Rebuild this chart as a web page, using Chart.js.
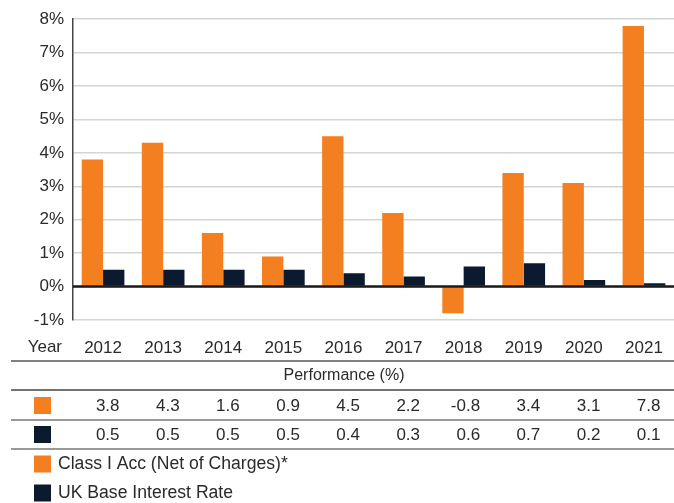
<!DOCTYPE html>
<html>
<head>
<meta charset="utf-8">
<script src="https://cdn.jsdelivr.net/npm/chart.js@4"></script>
<style>
  html, body { margin: 0; padding: 0; background: #ffffff; }
  #wrap { width: 674px; height: 503px; }
</style>
</head>
<body>
<div id="wrap"><canvas id="c" width="674" height="503"></canvas></div>
<script>
// ---- data ----
const years = ['2012', '2013', '2014', '2015', '2016', '2017', '2018', '2019', '2020', '2021'];
const classIAcc = [3.8, 4.3, 1.6, 0.9, 4.5, 2.2, -0.8, 3.4, 3.1, 7.8];
const ukBaseRate = [0.5, 0.5, 0.5, 0.5, 0.4, 0.3, 0.6, 0.7, 0.2, 0.1];
const seriesLabels = ['Class I Acc (Net of Charges)*', 'UK Base Interest Rate'];
const yMin = -1;
const yMax = 8;
const yStep = 1;
const xAxisTitle = 'Year';
const tableTitle = 'Performance (%)';

// ---- styles ----
const ORANGE = '#F47F20';
const NAVY = '#0B1A2E';
const TEXT = '#2a2a2a';
const FONT = '"Liberation Sans", Arial, Helvetica, sans-serif';

const tablePlugin = {
  id: 'tablePlugin',
  afterDatasetsDraw(chart) {
    const ctx = chart.ctx;
    const y = chart.scales.y;
    const area = chart.chartArea;
    // zero line above bars
    const y0 = y.getPixelForValue(0);
    ctx.save();
    ctx.strokeStyle = '#1a1a1a';
    ctx.lineWidth = 2.5;
    ctx.beginPath();
    ctx.moveTo(area.left, y0);
    ctx.lineTo(674, y0);
    ctx.stroke();
    ctx.restore();
  },
  afterDraw(chart) {
    const ctx = chart.ctx;
    const x = chart.scales.x;
    ctx.save();
    ctx.fillStyle = TEXT;
    ctx.font = '17px ' + FONT;
    ctx.textBaseline = 'middle';
    ctx.textAlign = 'right';
    ctx.fillText(xAxisTitle, 62, 347);

    // table lines
    const lines = [[361, '#555555'], [390, '#444444'], [420, '#777777'], [449, '#777777']];
    lines.forEach(([ly, col]) => {
      ctx.strokeStyle = col;
      ctx.lineWidth = 1.5;
      ctx.beginPath();
      ctx.moveTo(11, ly);
      ctx.lineTo(674, ly);
      ctx.stroke();
    });

    // title
    ctx.font = '16px ' + FONT;
    ctx.textAlign = 'center';
    ctx.fillText(tableTitle, 344, 376);

    // rows
    const rows = [[classIAcc, ORANGE, 406], [ukBaseRate, NAVY, 435]];
    ctx.font = '17px ' + FONT;
    rows.forEach(([vals, col, ry]) => {
      ctx.fillStyle = col;
      ctx.fillRect(34, ry - 9, 17, 17);
      ctx.fillStyle = TEXT;
      ctx.textAlign = 'right';
      vals.forEach((v, i) => {
        const cx = x.getPixelForValue(i);
        ctx.fillText(v.toFixed(1), cx + 16.5, ry);
      });
    });

    // legend
    ctx.font = '17.6px ' + FONT;
    const leg = [[seriesLabels[0], ORANGE, 464], [seriesLabels[1], NAVY, 493]];
    leg.forEach(([lab, col, ly]) => {
      ctx.fillStyle = col;
      ctx.fillRect(34, ly - 8.5, 17, 17);
      ctx.fillStyle = TEXT;
      ctx.textAlign = 'left';
      ctx.fillText(lab, 58, ly);
    });
    ctx.restore();
  }
};

new Chart(document.getElementById('c'), {
  type: 'bar',
  data: {
    labels: years,
    datasets: [
      { label: seriesLabels[0], data: classIAcc, backgroundColor: ORANGE, barPercentage: 1, categoryPercentage: 0.71 },
      { label: seriesLabels[1], data: ukBaseRate, backgroundColor: NAVY, barPercentage: 1, categoryPercentage: 0.71 }
    ]
  },
  options: {
    responsive: false,
    devicePixelRatio: 1,
    animation: false,
    layout: { padding: { left: 0, right: -3, top: 18, bottom: 0 } },
    plugins: {
      legend: { display: false },
      tooltip: { enabled: false }
    },
    scales: {
      x: {
        grid: { display: false, drawTicks: false },
        border: { display: false },
        ticks: { color: TEXT, font: { family: FONT, size: 17 }, padding: 18, maxRotation: 0 },
        afterFit(scale) {
          scale.height = 183;
          scale.paddingLeft = 0;
          scale.paddingRight = 0;
        }
      },
      y: {
        min: yMin,
        max: yMax,
        grid: { color: '#d4d4d4', lineWidth: 1.5, drawTicks: false },
        border: { display: true, color: '#444444', width: 1.5 },
        ticks: {
          stepSize: yStep,
          color: TEXT,
          font: { family: FONT, size: 17 },
          padding: 9,
          callback: (v) => v + '%'
        },
        afterFit(scale) { scale.width = 73; }
      }
    }
  },
  plugins: [tablePlugin]
});
</script>
</body>
</html>
